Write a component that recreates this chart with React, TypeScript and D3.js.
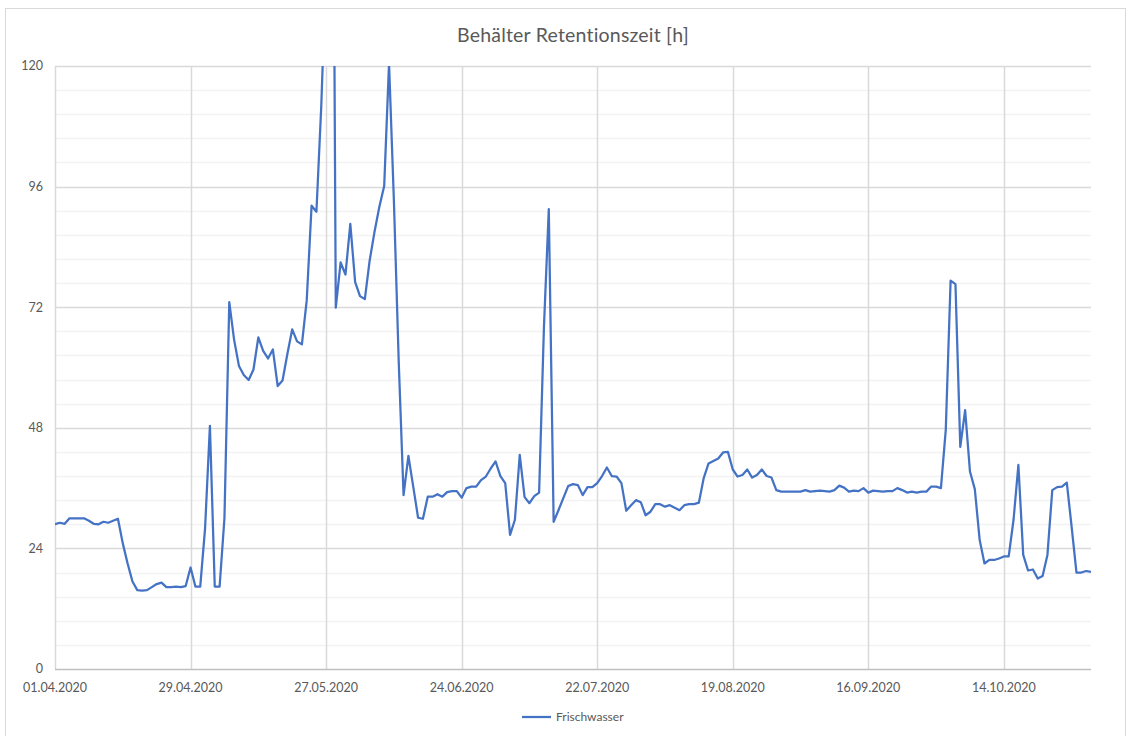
import React from "react";
import * as d3 from "d3";

const TITLE = "Behälter Retentionszeit [h]";
const SERIES_NAME = "Frischwasser";
const START_DATE = "2020-04-01";
const END_DATE = "2020-11-01";
const X_TICK_DATES = ["2020-04-01", "2020-04-29", "2020-05-27", "2020-06-24", "2020-07-22", "2020-08-19", "2020-09-16", "2020-10-14"];
const Y_TICKS = [0, 24, 48, 72, 96, 120];
const Y_MINOR_STEP = 4.8;

// one value per day starting at START_DATE
const values = [
  28.8, 29.1, 28.9, 30.0, 30.0, 30.0, 30.0, 29.5, 28.9, 28.8,
  29.3, 29.1, 29.5, 29.9, 25.0, 21.0, 17.4, 15.7, 15.6, 15.7,
  16.3, 16.9, 17.2, 16.3, 16.3, 16.4, 16.3, 16.5, 20.2, 16.4,
  16.4, 28.0, 48.4, 16.4, 16.4, 30.0, 73.0, 65.5, 60.3, 58.5,
  57.5, 59.6, 66.0, 63.3, 61.8, 63.6, 56.3, 57.4, 62.7, 67.6,
  65.2, 64.6, 73.4, 92.2, 91.0, 112.0, 140.0, 250.0, 71.9, 80.9,
  78.5, 88.6, 77.0, 74.2, 73.6, 81.3, 87.0, 92.0, 96.1, 120.5,
  93.3, 61.2, 34.6, 42.4, 36.3, 30.1, 29.9, 34.3, 34.3, 34.8,
  34.3, 35.2, 35.4, 35.4, 34.1, 36.0, 36.3, 36.3, 37.6, 38.3,
  39.9, 41.3, 38.4, 37.0, 26.7, 29.7, 42.6, 34.2, 33.0, 34.4,
  35.1, 68.1, 91.5, 29.3, 31.6, 34.0, 36.4, 36.8, 36.6, 34.6,
  36.2, 36.2, 37.0, 38.4, 40.1, 38.4, 38.3, 37.0, 31.5, 32.6,
  33.6, 33.2, 30.6, 31.3, 32.8, 32.8, 32.3, 32.6, 32.1, 31.6,
  32.6, 32.8, 32.8, 33.1, 38.0, 40.9, 41.4, 41.9, 43.1, 43.2,
  39.7, 38.3, 38.6, 39.7, 38.1, 38.6, 39.7, 38.4, 38.1, 35.6,
  35.3, 35.3, 35.3, 35.3, 35.3, 35.6, 35.3, 35.4, 35.5, 35.4,
  35.3, 35.6, 36.5, 36.1, 35.3, 35.5, 35.4, 36.0, 35.1, 35.5,
  35.4, 35.3, 35.4, 35.4, 36.0, 35.6, 35.1, 35.3, 35.1, 35.3,
  35.3, 36.3, 36.3, 36.0, 47.6, 77.3, 76.6, 44.2, 51.5, 39.3,
  35.8, 25.7, 21.0, 21.7, 21.7, 22.0, 22.4, 22.4, 29.7, 40.6,
  22.7, 19.6, 19.8, 18.0, 18.5, 22.7, 35.6, 36.2, 36.3, 37.1,
  28.3, 19.2, 19.2, 19.5, 19.3,
];

const W = 1132;
const H = 736;
const FONT = "Lato, 'Open Sans', sans-serif";
const TEXT_COLOR = "#595959";
const LINE_COLOR = "#4472C4";

export default function App() {
  const parse = d3.timeParse("%Y-%m-%d");
  const fmt = d3.timeFormat("%d.%m.%Y");
  const start = parse(START_DATE)!;
  const end = parse(END_DATE)!;

  const left = 55, right = 1091, top = 66, bottom = 669;
  const x = d3.scaleTime().domain([start, end]).range([left, right]);
  const y = d3.scaleLinear().domain([0, 120]).range([bottom, top]);

  const data = values.map((v, i) => ({ date: d3.timeDay.offset(start, i), v }));
  const line = d3
    .line<{ date: Date; v: number }>()
    .x((d) => x(d.date))
    .y((d) => y(d.v));

  const minor: number[] = [];
  for (let i = 1; i * Y_MINOR_STEP < 120; i++) {
    if (i % 5 !== 0) minor.push(i * Y_MINOR_STEP);
  }
  const xTicks = X_TICK_DATES.map((s) => parse(s)!);

  return (
    <svg
      width={W}
      height={H}
      style={{ position: "absolute", left: 0, top: 0, background: "#fff" }}
      fontFamily={FONT}
    >
      <defs>
        <clipPath id="plotClip">
          <rect x={left} y={top} width={right - left} height={bottom - top} />
        </clipPath>
      </defs>
      <rect x={0} y={0} width={W} height={H} fill="#fff" />
      <rect x={5.5} y={8.5} width={1120} height={740} fill="none" stroke="#d9d9d9" strokeWidth={1} />

      <text x={573} y={42} textAnchor="middle" fontSize={19.5} fill={TEXT_COLOR} letterSpacing={0.2}>
        {TITLE}
      </text>

      {minor.map((m) => (
        <line key={"mn" + m} x1={left} x2={right} y1={Math.round(y(m)) + 0.5} y2={Math.round(y(m)) + 0.5} stroke="#f2f2f2" strokeWidth={1.5} />
      ))}
      {Y_TICKS.filter((t) => t > 0).map((t) => (
        <line key={"mj" + t} x1={left} x2={right} y1={Math.round(y(t)) + 0.5} y2={Math.round(y(t)) + 0.5} stroke="#d9d9d9" strokeWidth={1.5} />
      ))}
      {xTicks.slice(1).map((d, i) => (
        <line key={"vx" + i} x1={Math.round(x(d)) + 0.5} x2={Math.round(x(d)) + 0.5} y1={top} y2={bottom} stroke="#d9d9d9" strokeWidth={1.5} />
      ))}

      <line x1={left + 0.5} x2={left + 0.5} y1={top} y2={bottom} stroke="#d9d9d9" strokeWidth={1.5} />
      <line x1={left} x2={right} y1={bottom + 0.5} y2={bottom + 0.5} stroke="#bfbfbf" strokeWidth={1.5} />

      {Y_TICKS.map((t) => (
        <text key={"yl" + t} x={43} y={y(t)} dy="0.35em" textAnchor="end" fontSize={12.5} fill={TEXT_COLOR}>
          {t}
        </text>
      ))}
      {xTicks.map((d, i) => (
        <text key={"xl" + i} x={x(d)} y={692} textAnchor="middle" fontSize={12.5} fill={TEXT_COLOR}>
          {fmt(d)}
        </text>
      ))}

      <path d={line(data) || ""} fill="none" stroke={LINE_COLOR} strokeWidth={2.25} strokeLinejoin="round" clipPath="url(#plotClip)" />

      <line x1={522} x2={551} y1={717} y2={717} stroke={LINE_COLOR} strokeWidth={2.25} />
      <text x={556} y={717} dy="0.35em" fontSize={12} fill={TEXT_COLOR}>
        {SERIES_NAME}
      </text>
    </svg>
  );
}
